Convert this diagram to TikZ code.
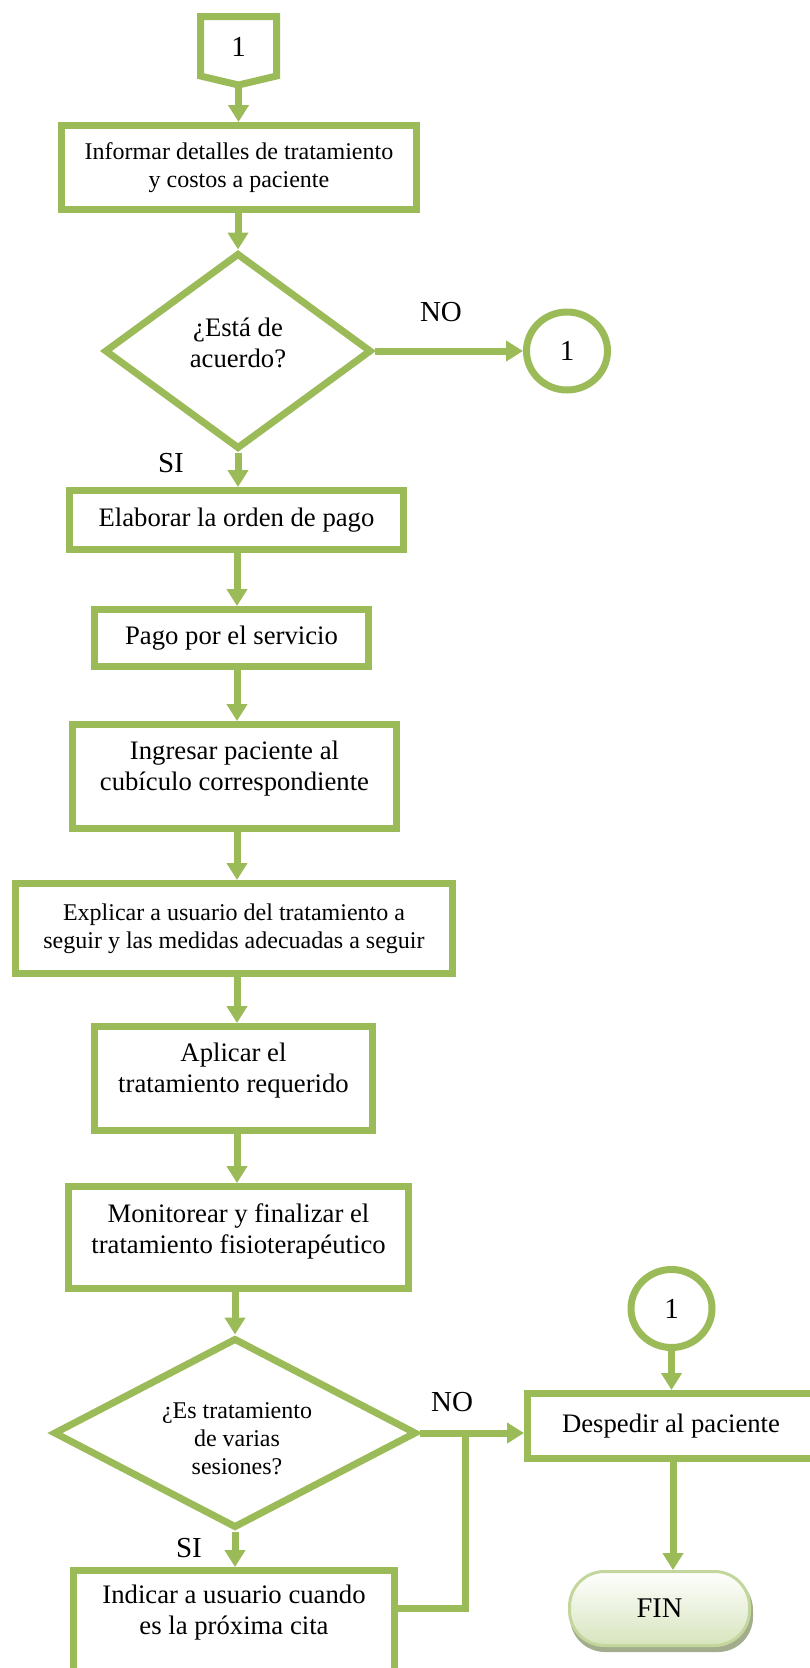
\documentclass[tikz,border=0pt]{standalone}
\usepackage{fontspec}
\setmainfont{Liberation Serif}
\usetikzlibrary{arrows.meta,shapes.geometric}
\definecolor{grn}{HTML}{9BBB59}
\definecolor{finborder}{HTML}{C3D69B}
\definecolor{finbot}{HTML}{D7E4BD}
\definecolor{finshadow}{HTML}{A3AD8E}
\begin{document}
\begin{tikzpicture}[x=1pt,y=-1pt,
  bigf/.style={font=\fontsize{26.7pt}{31pt}\selectfont},
  smallf/.style={font=\fontsize{24pt}{28pt}\selectfont},
  labf/.style={font=\fontsize{29pt}{33pt}\selectfont},
  box/.style={draw=grn, line width=7pt, rectangle, inner sep=0pt, align=center, bigf},
  dia/.style={draw=grn, line width=7pt, diamond, inner sep=0pt},
  conn/.style={draw=grn, line width=7pt, ellipse, inner sep=0pt, minimum width=81pt, minimum height=78pt, labf},
  txt/.style={align=center, inner sep=0pt},
  ln/.style={draw=grn, line width=7pt},
  arr/.style={ln, -{Triangle[width=20pt,length=17pt]}},
  lab/.style={labf, inner sep=0pt}
]
\useasboundingbox (0,0) rectangle (810,1668);
\clip (0,0) rectangle (810,1668);
\coordinate (col) at (237,0);

% off-page connector
\node[lab] (off) at (238.5,47) {1};
\draw[ln] (200.5,16.5) -- (276.5,16.5) -- (276.5,76) -- (238.5,85) -- (200.5,76) -- cycle;
\coordinate (offtip) at (238.5,85);

\node[box, smallf, minimum width=355pt, minimum height=84pt] (b1) at (239,167.5) {Informar detalles de tratamiento\\y costos a paciente};
\draw[arr] (offtip) -- (offtip |- b1.north);

% decision 1
\node[dia, minimum width=267pt, minimum height=196pt] (d1) at (238,351) {};
\node[txt, bigf] (t1) at (238,343) {¿Está de\\acuerdo?};
\draw[arr] (b1.south -| d1.north) -- (d1.north);
\node[conn] (c1) at (567,351) {1};
\draw[arr] (d1.east) -- (c1.west);
\node[lab] (no1) at (441,312) {NO};
\node[lab] (si1) at (171,463) {SI};

\node[box, minimum width=334pt, minimum height=59pt] (b2) at (236.5,520) {Elaborar la orden de pago};
\draw[arr] (d1.south) -- (d1.south |- b2.north);

\node[box, minimum width=274pt, minimum height=57pt] (b3) at (231.5,638) {Pago por el servicio};
\draw[arr] (b2.south -| col) -- (b3.north -| col);

\node[box, minimum width=324pt, minimum height=104pt] (b4) at (234.5,776.5) {};
\node[txt, bigf] (t4) at (234.5,768.5) {Ingresar paciente al\\cubículo correspondiente};
\draw[arr] (b3.south -| col) -- (b4.north -| col);

\node[box, smallf, minimum width=437pt, minimum height=90pt] (b5) at (234,928.5) {Explicar a usuario del tratamiento a\\seguir y las medidas adecuadas a seguir};
\draw[arr] (b4.south -| col) -- (b5.north -| col);

\node[box, minimum width=278pt, minimum height=104pt] (b6) at (233.5,1078.5) {};
\node[txt, bigf] (t6) at (233.5,1071) {Aplicar el\\tratamiento requerido};
\draw[arr] (b5.south -| col) -- (b6.north -| col);

\node[box, minimum width=340pt, minimum height=102pt] (b7) at (238.5,1237.5) {};
\node[txt, bigf] (t7) at (238.5,1231.5) {Monitorear y finalizar el\\tratamiento fisioterapéutico};
\draw[arr] (b6.south -| col) -- (b7.north -| col);

% decision 2
\node[dia, minimum width=363pt, minimum height=190pt] (d2) at (235,1433) {};
\node[txt, smallf] (t8) at (237,1439) {¿Es tratamiento\\de varias\\sesiones?};
\draw[arr] (b7.south -| d2.north) -- (d2.north);

\node[box, minimum width=287pt, minimum height=65pt] (desp) at (671,1426) {Despedir al paciente};
\node[conn] (c2) at (671.5,1308.5) {1};
\draw[arr] (c2.south) -- (c2.south |- desp.north);

\coordinate (jn) at (465,1433);
\draw[arr] (d2.east) -- (d2.east -| desp.west);
\node[lab] (no2) at (452,1402) {NO};
\node[lab] (si2) at (189,1548) {SI};

\node[box, minimum width=321pt, minimum height=130pt] (ind) at (234,1635.5) {};
\node[txt, bigf] (t9) at (234,1613) {Indicar a usuario cuando\\es la próxima cita};
\draw[arr] (d2.south) -- (d2.south |- ind.north);
\draw[ln] ([yshift=27.5pt]ind.east) -| (jn);

% FIN terminal
\node[fill=finshadow, rounded corners=35pt, minimum width=183pt, minimum height=77pt, inner sep=0pt] (finsh) at (661.5,1613.5) {};
\node[draw=finborder, line width=3pt, rounded corners=35pt, top color=white, bottom color=finbot, minimum width=180pt, minimum height=74pt, inner sep=0pt, font=\fontsize{28.5pt}{32pt}\selectfont] (fin) at (659.5,1608.5) {FIN};
\draw[arr] ([xshift=2pt]desp.south) -- ([xshift=2pt]desp.south |- fin.north);
\end{tikzpicture}
\end{document}
